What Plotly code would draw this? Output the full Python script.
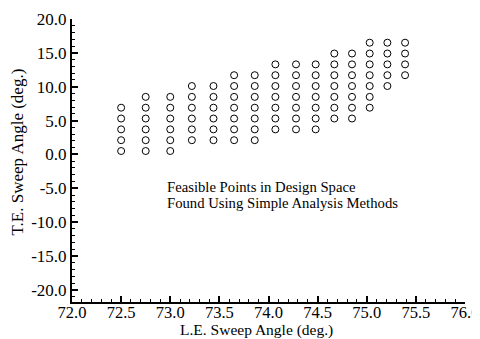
import plotly.graph_objects as go

# Column positions (L.E. sweep angle, deg.)
le_sweep = [72.5, 72.75, 73.0, 73.22, 73.44, 73.65, 73.86, 74.07, 74.28,
            74.48, 74.67, 74.85, 75.03, 75.21, 75.39]
# Row levels (T.E. sweep angle, deg.)
te_levels = [0.5, 2.1, 3.7, 5.3, 6.9, 8.5, 10.1, 11.7, 13.3, 14.9, 16.5]
# Lowest and highest row index of feasible points in each column
row_lo = [0, 0, 0, 1, 1, 1, 1, 2, 2, 2, 3, 3, 4, 6, 7]
row_hi = [4, 5, 5, 6, 6, 7, 7, 8, 8, 8, 9, 9, 10, 10, 10]

x_ticks = [72.0, 72.5, 73.0, 73.5, 74.0, 74.5, 75.0, 75.5, 76.0]
x_ticktext = ["72.0", "72.5", "73.0", "73.5", "74.0", "74.5", "75.0", "75.5", "76.0"]
y_ticks = [20, 15, 10, 5, 0, -5, -10, -15, -20]
y_ticktext = ["20.0", "15.0", "10.0", "5.0", "0.0", "-5.0", "-10.0", "-15.0", "-20.0"]

x_title = "L.E. Sweep Angle (deg.)"
y_title = "T.E. Sweep Angle (deg.)"
note_lines = ["Feasible Points in Design Space", "Found Using Simple Analysis Methods"]

xs, ys = [], []
for xv, lo, hi in zip(le_sweep, row_lo, row_hi):
    for r in range(lo, hi + 1):
        xs.append(xv)
        ys.append(te_levels[r])

FONT = "Liberation Serif"

# page has an 8px body margin
OFF = 8
W, H = 472, 331
ML, MT = 64, 11
MR = W - (465 - OFF)
MB = H - (302 - OFF)
pw = W - ML - MR
ph = H - MT - MB


def px_to_paper(sx, sy):
    return (sx - OFF - ML) / pw, 1 - (sy - OFF - MT) / ph


fig = go.Figure()
fig.add_trace(go.Scatter(
    x=xs, y=ys, mode="markers",
    marker=dict(symbol="circle-open", size=7, color="black", line=dict(width=1, color="black")),
    showlegend=False, hoverinfo="skip"))

for i, line in enumerate(note_lines):
    ax, ay = px_to_paper(165, 187 + 16 * i)
    fig.add_annotation(
        x=ax, y=ay, xref="paper", yref="paper",
        text=line, showarrow=False, xanchor="left", yanchor="middle",
        font=dict(family=FONT, size=14.7, color="black"))

tx, ty = px_to_paper(256, 330)
fig.add_annotation(x=tx, y=ty, xref="paper", yref="paper", text=x_title,
                   showarrow=False, xanchor="center", yanchor="middle",
                   font=dict(family=FONT, size=15.5, color="black"))
tx, ty = px_to_paper(17, 152.5)
fig.add_annotation(x=tx, y=ty, xref="paper", yref="paper", text=y_title,
                   showarrow=False, xanchor="center", yanchor="middle", textangle=-90,
                   font=dict(family=FONT, size=17, color="black"))

axis_common = dict(
    showline=True, linecolor="black", linewidth=2, mirror=False,
    showgrid=False, zeroline=False, automargin=False,
    ticks="inside", ticklen=6, tickwidth=1.5, tickcolor="black",
)

fig.update_layout(
    width=W, height=H,
    margin=dict(l=ML, r=MR, t=MT, b=MB),
    paper_bgcolor="white", plot_bgcolor="white",
    xaxis=dict(range=[72, 76], tickmode="array", tickvals=x_ticks, ticktext=x_ticktext,
               ticklabelstandoff=-6,
               tickfont=dict(family=FONT, size=16.5, color="black"),
               minor=dict(dtick=0.1, ticks="inside", ticklen=3, tickwidth=1, tickcolor="black", showgrid=False),
               **axis_common),
    yaxis=dict(range=[-21.8, 20], tickmode="array", tickvals=y_ticks, ticktext=y_ticktext,
               tickfont=dict(family=FONT, size=17, color="black"),
               minor=dict(dtick=1, ticks="inside", ticklen=3, tickwidth=1, tickcolor="black", showgrid=False),
               **axis_common),
)

fig.write_html("out.html")
